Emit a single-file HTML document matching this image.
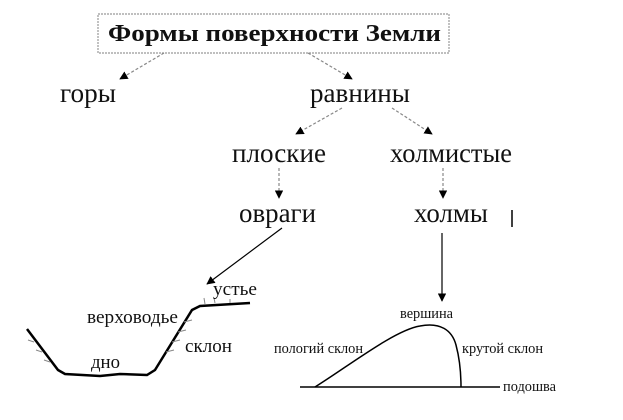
<!DOCTYPE html>
<html><head><meta charset="utf-8"><style>
html,body{margin:0;padding:0;background:#fff}
svg{display:block}
text{font-family:"Liberation Serif",serif;fill:#111}
</style></head><body>
<svg width="623" height="420" viewBox="0 0 623 420" xmlns="http://www.w3.org/2000/svg">
<defs>
<marker id="a" viewBox="0 0 10 10" refX="9" refY="5" markerWidth="7" markerHeight="7" orient="auto"><path d="M0,0L10,5L0,10z" fill="#000"/></marker>
</defs>
<rect x="98" y="14" width="351" height="39" fill="none" stroke="#999" stroke-width="1.2" stroke-dasharray="2,1"/>
<text x="108" y="41" font-size="24" font-weight="bold" textLength="333" lengthAdjust="spacingAndGlyphs">Формы поверхности Земли</text>
<g stroke="#888" stroke-width="1.2" stroke-dasharray="3,2" fill="none">
<line x1="164" y1="53" x2="120" y2="79" marker-end="url(#a)"/>
<line x1="308" y1="53" x2="352" y2="79" marker-end="url(#a)"/>
<line x1="342" y1="108" x2="296" y2="134" marker-end="url(#a)"/>
<line x1="392" y1="108" x2="432" y2="134" marker-end="url(#a)"/>
<line x1="279" y1="168" x2="279" y2="198" marker-end="url(#a)"/>
<line x1="443" y1="168" x2="443" y2="198" marker-end="url(#a)"/>
</g>
<g font-size="27">
<text x="60" y="102" textLength="56" lengthAdjust="spacingAndGlyphs">горы</text>
<text x="310" y="102" textLength="100" lengthAdjust="spacingAndGlyphs">равнины</text>
<text x="232" y="162" textLength="94" lengthAdjust="spacingAndGlyphs">плоские</text>
<text x="390" y="162" textLength="122" lengthAdjust="spacingAndGlyphs">холмистые</text>
<text x="239" y="222" textLength="77" lengthAdjust="spacingAndGlyphs">овраги</text>
<text x="414" y="222" textLength="74" lengthAdjust="spacingAndGlyphs">холмы</text>
</g>
<line x1="512" y1="210" x2="512" y2="227" stroke="#000" stroke-width="1.5"/>
<g stroke="#000" stroke-width="1.2" fill="none">
<line x1="282" y1="228" x2="207" y2="284" marker-end="url(#a)"/>
<line x1="442" y1="233" x2="442" y2="301" marker-end="url(#a)"/>
</g>
<path d="M27,329 L58,370 L65,374 L100,376 L120,374 L147,375 L155,370 L192,310 L200,306 L250,303" fill="none" stroke="#000" stroke-width="2.5"/>
<path d="M34,342 l-6,-2 M42,352 l-6,-2 M50,362 l-6,-2 M166,352 l8,-2 M172,342 l8,-2 M178,332 l8,-2 M184,322 l8,-2 M205,304 l-1,-6 M215,303 l-1,-5 M230,303 l0,-4" stroke="#888" stroke-width="1"/>
<g font-size="19">
<text x="213" y="295" textLength="44" lengthAdjust="spacingAndGlyphs">устье</text>
<text x="87" y="323" textLength="91" lengthAdjust="spacingAndGlyphs">верховодье</text>
<text x="185" y="352" textLength="47" lengthAdjust="spacingAndGlyphs">склон</text>
<text x="91" y="368" textLength="29" lengthAdjust="spacingAndGlyphs">дно</text>
</g>
<line x1="300" y1="387" x2="500" y2="387" stroke="#000" stroke-width="1.5"/>
<path d="M315,387 C350,365 395,330 420,326 C440,322 452,330 456,345 C460,360 461,375 461,387" fill="none" stroke="#000" stroke-width="1.5"/>
<g font-size="15">
<text x="400" y="318" textLength="53" lengthAdjust="spacingAndGlyphs">вершина</text>
<text x="274" y="353" textLength="89" lengthAdjust="spacingAndGlyphs">пологий склон</text>
<text x="462" y="353" textLength="81" lengthAdjust="spacingAndGlyphs">крутой склон</text>
<text x="503" y="391" textLength="53" lengthAdjust="spacingAndGlyphs">подошва</text>
</g>
</svg>
</body></html>
